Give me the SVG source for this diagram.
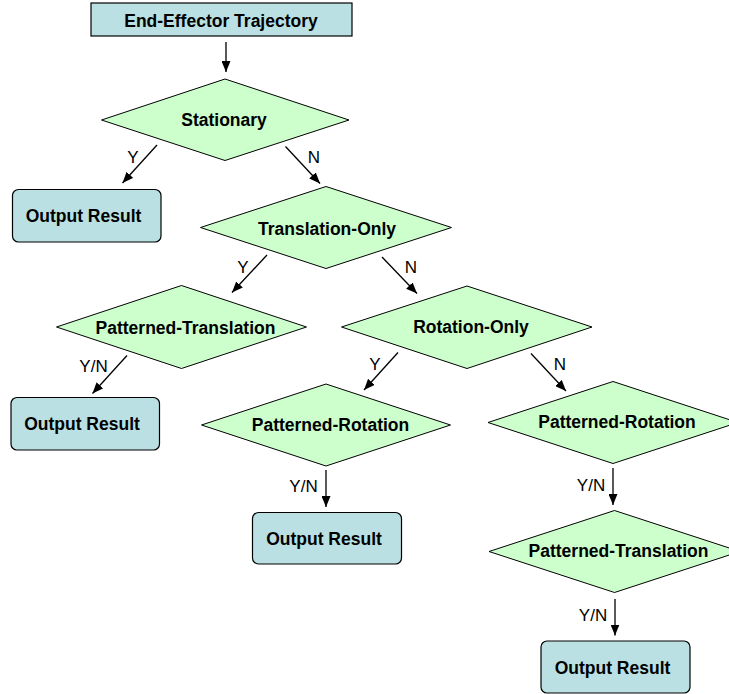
<svg xmlns="http://www.w3.org/2000/svg" width="729" height="694" viewBox="0 0 729 694">
<style>
.box{fill:#BAE0E3;stroke:#000;stroke-width:1.2}
.dia{fill:#CCFFCC;stroke:#000;stroke-width:1}
.t{font-family:"Liberation Sans",Arial,sans-serif;font-size:17.5px;font-weight:bold;fill:#000;text-anchor:middle}
.l{font-family:"Liberation Sans",Arial,sans-serif;font-size:17px;fill:#000;text-anchor:middle}
.c{stroke:#000;stroke-width:1.3;fill:none;marker-end:url(#ah)}
</style>
<defs>
<marker id="ah" markerUnits="userSpaceOnUse" markerWidth="11" markerHeight="9" refX="11" refY="4.5" orient="auto">
<path d="M0,0 L11,4.5 L0,9 z" fill="#000"/>
</marker>
</defs>
<rect width="729" height="694" fill="#fff"/>
<g id="start">
<rect class="box" x="91" y="3" width="261" height="33"/>
<text class="t" x="221" y="27">End-Effector Trajectory</text>
</g>
<g id="stationary">
<polygon class="dia" points="101.5,120 225,79 349,120 225,160.5"/>
<text class="t" x="224" y="125.5">Stationary</text>
</g>
<g id="out1">
<rect class="box" x="12.5" y="189.5" width="148.5" height="52.5" rx="6"/>
<text class="t" x="83.5" y="222">Output Result</text>
</g>
<g id="translation-only">
<polygon class="dia" points="200.5,227.5 326,186.5 451.5,227.5 326,268.5"/>
<text class="t" x="327" y="235">Translation-Only</text>
</g>
<g id="patterned-translation-left">
<polygon class="dia" points="56.5,327 181.5,285.5 306.5,327 181.5,368.5"/>
<text class="t" x="185.5" y="333.5">Patterned-Translation</text>
</g>
<g id="out2">
<rect class="box" x="11" y="397.5" width="148.5" height="52.5" rx="6"/>
<text class="t" x="82" y="430">Output Result</text>
</g>
<g id="rotation-only">
<polygon class="dia" points="341.5,327 467,286 592,327 467,368.5"/>
<text class="t" x="471" y="333">Rotation-Only</text>
</g>
<g id="patterned-rotation-mid">
<polygon class="dia" points="201.5,425 326,384 450.5,425 326,466"/>
<text class="t" x="330.5" y="431">Patterned-Rotation</text>
</g>
<g id="out3">
<rect class="box" x="252.5" y="512.5" width="149" height="51.5" rx="6"/>
<text class="t" x="324" y="545">Output Result</text>
</g>
<g id="patterned-rotation-right">
<polygon class="dia" points="488,422.5 613,381.5 738,422.5 613,463.5"/>
<text class="t" x="617" y="427.5">Patterned-Rotation</text>
</g>
<g id="patterned-translation-right">
<polygon class="dia" points="489,551.5 614.5,510.5 740,551.5 614.5,592.5"/>
<text class="t" x="618.5" y="557">Patterned-Translation</text>
</g>
<g id="out4">
<rect class="box" x="541" y="641" width="149" height="52" rx="6"/>
<text class="t" x="612.5" y="674">Output Result</text>
</g>
<g id="connectors">
<line class="c" x1="226" y1="42" x2="226" y2="72"/>
<line class="c" x1="157" y1="145" x2="122.5" y2="183"/>
<line class="c" x1="285.5" y1="146.5" x2="320" y2="183.5"/>
<line class="c" x1="267" y1="255" x2="232" y2="292.5"/>
<line class="c" x1="382" y1="257" x2="417" y2="293.5"/>
<line class="c" x1="127" y1="355.5" x2="92.5" y2="393.5"/>
<line class="c" x1="398" y1="352.5" x2="364" y2="390"/>
<line class="c" x1="531" y1="353.5" x2="566" y2="391"/>
<line class="c" x1="326" y1="470" x2="326" y2="507"/>
<line class="c" x1="613" y1="468" x2="613" y2="505"/>
<line class="c" x1="615" y1="599" x2="615" y2="635.5"/>
<text class="l" x="133" y="163">Y</text>
<text class="l" x="314" y="163">N</text>
<text class="l" x="243" y="273">Y</text>
<text class="l" x="411" y="273">N</text>
<text class="l" x="93.5" y="372">Y/N</text>
<text class="l" x="375" y="370">Y</text>
<text class="l" x="560" y="370">N</text>
<text class="l" x="303.5" y="492">Y/N</text>
<text class="l" x="591" y="491">Y/N</text>
<text class="l" x="593" y="621">Y/N</text>
</g>
</svg>
